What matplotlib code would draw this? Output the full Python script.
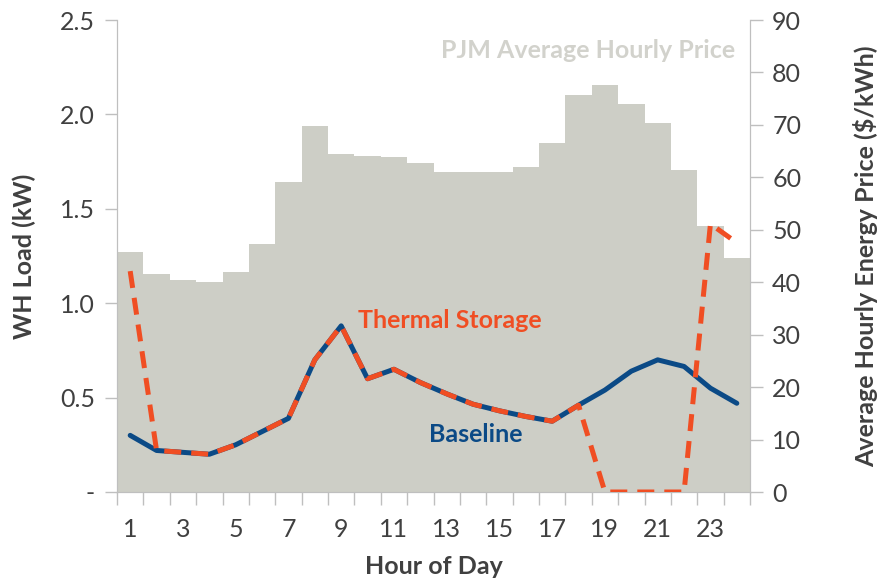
import matplotlib.pyplot as plt
import numpy as np

plt.rcParams['font.family'] = ['Lato', 'DejaVu Sans']

hours = list(range(1, 25))
price = [45.7, 41.5, 40.4, 40.1, 42.0, 47.2, 59.2, 69.7, 64.4, 64.1, 63.9, 62.8,
         61.0, 61.0, 61.1, 62.0, 66.6, 75.7, 77.7, 73.9, 70.4, 61.4, 50.7, 44.7]
baseline = [0.30, 0.22, 0.21, 0.20, 0.25, 0.32, 0.39, 0.70, 0.88, 0.60, 0.65, 0.58,
            0.52, 0.465, 0.43, 0.40, 0.375, 0.46, 0.54, 0.64, 0.70, 0.665, 0.55, 0.47]
thermal = [1.17, 0.22, 0.21, 0.20, 0.25, 0.32, 0.39, 0.70, 0.88, 0.60, 0.65, 0.58,
           0.52, 0.465, 0.43, 0.40, 0.375, 0.46, 0.0, 0.0, 0.0, 0.0, 1.42, 1.32]
left_ticks = [0, 0.5, 1.0, 1.5, 2.0, 2.5]
left_labels = ['-', '0.5', '1.0', '1.5', '2.0', '2.5']

gray = '#BFBFBF'
txt = '#404040'
fs = 18

fig = plt.figure(figsize=(8.77, 5.82), dpi=100)
ax = fig.add_axes([117/877, 1 - 492/582, 633/877, 472/582])
ax2 = ax.twinx()
ax.set_zorder(ax2.get_zorder() + 1)
ax.patch.set_visible(False)

ax2.bar(hours, price, width=1.0, color='#CDCEC6', edgecolor='none')
ax2.set_ylim(0, 90)
ax2.set_yticks(range(0, 91, 10))

ax.plot(hours, baseline, color='#0B4A86', lw=3.6, solid_capstyle='round', zorder=3)
ax.plot(hours, thermal, color='#F04E23', lw=3.6, dashes=(3.4, 2.0), zorder=4)
ax.set_ylim(0, 2.5)
ax.set_xlim(0.5, 24.5)
ax.set_yticks(left_ticks)
ax.set_yticklabels(left_labels)
ax.set_xticks(range(1, 25, 2))
ax.set_xticks(np.arange(0.5, 25, 1), minor=True)
ax.tick_params(axis='x', which='major', length=0, pad=19)
ax.tick_params(axis='x', which='minor', length=9, color=gray, width=1)

for a in (ax, ax2):
    a.tick_params(axis='y', length=9, color=gray, width=1, labelsize=fs, labelcolor=txt, pad=7)
    a.tick_params(axis='x', labelsize=fs, labelcolor=txt)
    for s in a.spines.values():
        s.set_color(gray)
    a.spines['top'].set_visible(False)

ax.set_xlabel('Hour of Day', fontsize=fs, fontweight='bold', color=txt)
ax.xaxis.set_label_coords(0.5, -0.134)
ax.set_ylabel('WH Load (kW)', fontsize=fs, fontweight='bold', color=txt)
ax.yaxis.set_label_coords(-0.128, 0.5)
ax2.set_ylabel('Average Hourly Energy Price ($/kWh)', fontsize=fs, fontweight='bold', color=txt)
ax2.yaxis.set_label_coords(1.163, 0.5)

ax.text(0.976, 0.936, 'PJM Average Hourly Price', transform=ax.transAxes, ha='right',
        va='center', fontsize=fs, fontweight='bold', color='#D2D2CC')
ax.text(13.1, 0.91, 'Thermal Storage', ha='center', va='center', fontsize=fs,
        fontweight='bold', color='#F04E23')
ax.text(14.1, 0.305, 'Baseline', ha='center', va='center', fontsize=fs,
        fontweight='bold', color='#0B4A86')

fig.savefig('out.png', dpi=100)
